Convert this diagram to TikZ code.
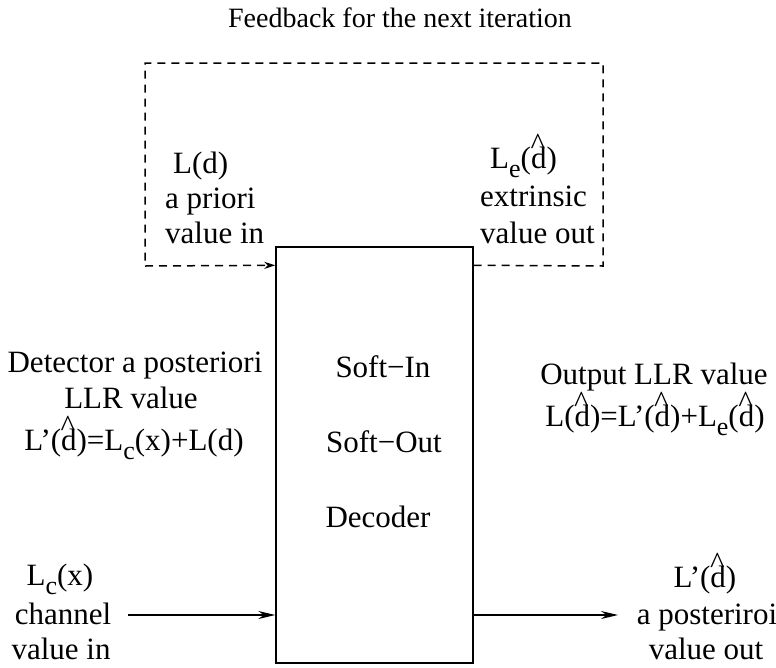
\documentclass[tikz,border=0pt]{standalone}
\usepackage{fontspec}
\setmainfont{Liberation Serif}
\usetikzlibrary{arrows.meta,calc}

% d with a tall caret above it, and a lowered subscript in text size
\newcommand\dhat{\ooalign{d\cr\hidewidth\kern-0.06em\raisebox{0.42em}{\symbol{94}}\hidewidth\cr}}
\newcommand\lsub[1]{\raisebox{-0.3em}{\fontsize{26}{26}\selectfont #1}}

\begin{document}
\begin{tikzpicture}[x=1pt,y=-1pt,
  lbl/.style={inner sep=0pt,anchor=base,font=\fontsize{31}{35}\selectfont},
  lblw/.style={lbl,anchor=base west},
  decbox/.style={draw,line width=1.4pt,minimum width=197pt,minimum height=416pt,inner sep=0pt},
  arr/.style={line width=1.3pt,-{Stealth[length=17pt,width=8pt]}},
  fbline/.style={line width=1.5pt,dash pattern=on 8pt off 6pt},
  fbarr/.style={fbline,-{Stealth[length=11pt,width=7pt,open]}}]
\useasboundingbox (0,0) rectangle (776,667);

% decoder block
\node[decbox] (dec) at (374.5,455) {};
\node[lbl] (si) at (383,377) {Soft−In};
\node[lbl] (so) at (384,452) {Soft−Out};
\node[lbl] (dc) at (378,527) {Decoder};

% feedback loop
\node[lbl,font=\fontsize{28}{32}\selectfont] (fbt) at (400,27) {Feedback for the next iteration};
\coordinate (fbout) at ($(dec.north east)+(0,19)$);
\coordinate (fbin) at ($(dec.north west)+(0,19)$);
\coordinate (cbr) at (603,266);
\coordinate (ctr) at (603,63);
\coordinate (ctl) at (145,63);
\coordinate (cbl) at (145,266);
\draw[fbline] (fbout) -- (cbr) -- (ctr) -- (ctl) -- (cbl);
\draw[fbarr] (cbl) -- (fbin);

\node[lblw] (ld) at (173,173) {L(d)};
\node[lblw] (ap) at (165,208) {a priori};
\node[lblw] (vi1) at (165,243) {value in};

\node[lblw] (le) at (490,168) {L\lsub{e}(\dhat)};
\node[lblw] (ex) at (480,206) {extrinsic};
\node[lblw] (vo1) at (480,243) {value out};

% detector side
\node[lbl] (det) at (135,372) {Detector a posteriori};
\node[lbl] (llr) at (131,408) {LLR value};
\node[lbl] (detf) at (134,450) {L’(\dhat)=L\lsub{c}(x)+L(d)};

% output side
\node[lbl] (outl) at (654,384) {Output LLR value};
\node[lbl] (outf) at (655,426) {L(\dhat)=L’(\dhat)+L\lsub{e}(\dhat)};

% channel input
\node[lbl] (lcx) at (60,585) {L\lsub{c}(x)};
\node[lbl] (chn) at (63,624) {channel};
\node[lbl] (vi2) at (61,659) {value in};
\coordinate (chin) at (128,615);
\draw[arr] (chin) -- (chin -| dec.west);

% a posteriori output
\node[lbl] (lpd) at (705,587) {L’(\dhat)};
\node[lbl] (apo) at (707,624) {a posteriroi};
\node[lbl] (vo2) at (706,659) {value out};
\coordinate (poout) at (618,615);
\draw[arr] (poout -| dec.east) -- (poout);
\end{tikzpicture}
\end{document}
